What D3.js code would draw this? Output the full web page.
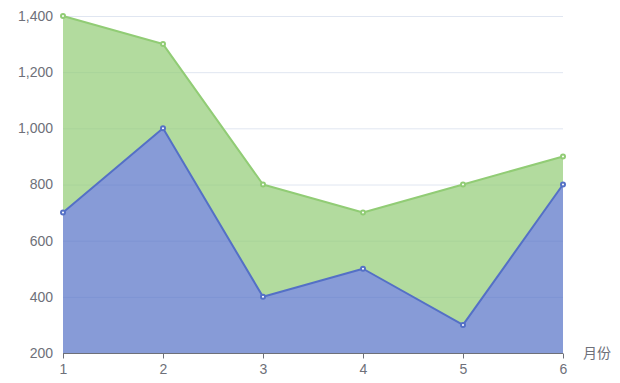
<!DOCTYPE html>
<html>
<head>
<meta charset="utf-8">
<script src="https://cdn.jsdelivr.net/npm/d3@7"></script>
<style>
  body { margin: 0; background: #fff; }
  svg { display: block; font-family: "DejaVu Sans", "Noto Sans CJK SC", sans-serif; }
</style>
</head>
<body>
<svg id="chart" width="620" height="383"></svg>
<script>
// categories and series values
const months = ['1', '2', '3', '4', '5', '6'];
const seriesA = [700, 1000, 400, 500, 300, 800];
const seriesB = [1400, 1300, 800, 700, 800, 900];
const yTicks = [200, 400, 600, 800, 1000, 1200, 1400];

const svg = d3.select('#chart');
const gridLeft = 63, gridRight = 563, gridTop = 16, gridBottom = 353;

const x = d3.scalePoint().domain(months).range([gridLeft, gridRight]);
const y = d3.scaleLinear().domain([200, 1400]).range([gridBottom, gridTop]);

// horizontal grid lines
svg.append('g')
  .selectAll('line')
  .data(yTicks.slice(1))
  .join('line')
    .attr('x1', gridLeft).attr('x2', gridRight)
    .attr('y1', d => y(d) + 0.5).attr('y2', d => y(d) + 0.5)
    .attr('stroke', '#e0e6f1');

const areaA = d3.area()
  .x((d, i) => x(months[i]))
  .y0(y(200))
  .y1(d => y(d));

// green area sits between the two lines
const areaB = d3.area()
  .x((d, i) => x(months[i]))
  .y0((d, i) => y(seriesA[i]))
  .y1(d => y(d));

const line = d3.line().x((d, i) => x(months[i])).y(d => y(d));

svg.append('path').datum(seriesB).attr('d', areaB)
  .attr('fill', '#91cc75').attr('fill-opacity', 0.7);
svg.append('path').datum(seriesA).attr('d', areaA)
  .attr('fill', '#5470c6').attr('fill-opacity', 0.7);

// x axis
const xAxis = svg.append('g')
  .attr('transform', `translate(0,${gridBottom + 0.5})`)
  .call(d3.axisBottom(x).tickSize(5).tickPadding(6));
xAxis.select('.domain').attr('stroke', '#6e7079').attr('d', `M${gridLeft},0H${gridRight}`);
xAxis.selectAll('.tick line').attr('stroke', '#6e7079');
xAxis.selectAll('.tick text').attr('fill', '#6e7079').attr('font-size', 14);

// y axis labels
const yAxis = svg.append('g')
  .attr('transform', `translate(${gridLeft},0)`)
  .call(d3.axisLeft(y).tickValues(yTicks).tickSize(0).tickPadding(10).tickFormat(d3.format(',')));
yAxis.select('.domain').remove();
yAxis.selectAll('.tick text').attr('fill', '#6e7079').attr('font-size', 14);

// axis name
svg.append('text')
  .attr('x', gridRight + 20).attr('y', gridBottom)
  .attr('dy', '0.35em')
  .attr('fill', '#6e7079').attr('font-size', 14)
  .text('月份');

// lines and markers
[[seriesB, '#91cc75'], [seriesA, '#5470c6']].forEach(([data, color]) => {
  svg.append('path').datum(data).attr('d', line)
    .attr('fill', 'none').attr('stroke', color).attr('stroke-width', 2)
    .attr('stroke-linejoin', 'bevel');
  svg.append('g').selectAll('circle')
    .data(data)
    .join('circle')
      .attr('cx', (d, i) => x(months[i]))
      .attr('cy', d => y(d))
      .attr('r', 2)
      .attr('fill', '#fff')
      .attr('stroke', color)
      .attr('stroke-width', 2);
});
</script>
</body>
</html>
